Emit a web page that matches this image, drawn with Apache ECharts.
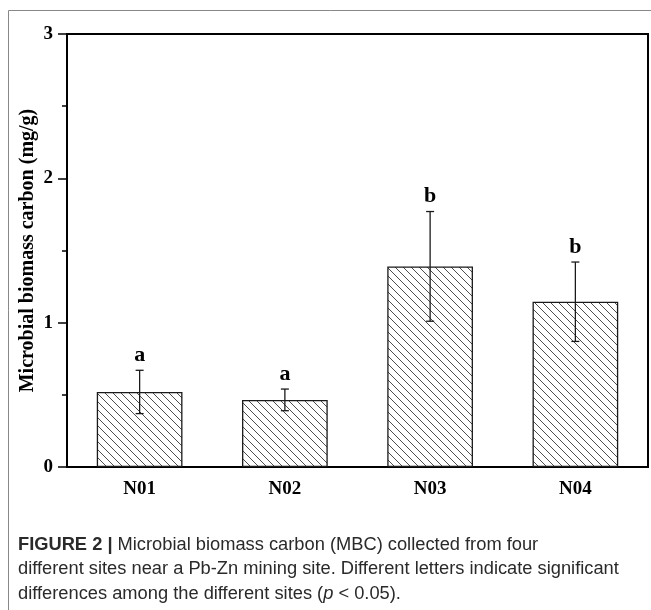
<!DOCTYPE html>
<html>
<head>
<meta charset="utf-8">
<script src="https://cdn.jsdelivr.net/npm/echarts@6/dist/echarts.min.js"></script>
<style>
html,body{margin:0;padding:0;background:#fff;}
#chart{width:651px;height:610px;}
</style>
</head>
<body>
<div id="chart"></div>
<script>
var categories = ['N01', 'N02', 'N03', 'N04'];
var means = [0.52, 0.465, 1.39, 1.145];
var errors = [0.15, 0.075, 0.38, 0.275];
var sigLetters = ['a', 'a', 'b', 'b'];
var yTicks = [0, 1, 2, 3];
var yAxisName = 'Microbial biomass carbon (mg/g)';
var captionBold = 'FIGURE 2 |';
var captionLines = [
  ' Microbial biomass carbon (MBC) collected from four',
  'different sites near a Pb-Zn mining site. Different letters indicate significant',
  'differences among the different sites ({i|p} < 0.05).'
];

var serif = '"Liberation Serif", "Times New Roman", serif';
var sans = '"Liberation Sans", Arial, sans-serif';

// hatch pattern
var tile = document.createElement('canvas');
tile.width = 8; tile.height = 8;
var ctx = tile.getContext('2d');
ctx.fillStyle = '#fff';
ctx.fillRect(0, 0, 8, 8);
ctx.strokeStyle = '#3a3a3a';
ctx.lineWidth = 0.9;
ctx.beginPath();
ctx.moveTo(-1, -1); ctx.lineTo(9, 9);
ctx.moveTo(-1, 7); ctx.lineTo(1, 9);
ctx.moveTo(7, -1); ctx.lineTo(9, 1);
ctx.stroke();

var errData = categories.map(function (c, i) {
  return [i, means[i] - errors[i], means[i] + errors[i], sigLetters[i]];
});

var chart = echarts.init(document.getElementById('chart'));
chart.setOption({
  animation: false,
  backgroundColor: '#fff',
  grid: {
    left: 67, right: 3, top: 34, bottom: 143,
    show: true, borderColor: '#000', borderWidth: 2, backgroundColor: 'transparent'
  },
  xAxis: [{
    type: 'category',
    data: categories,
    axisLine: { lineStyle: { color: '#000', width: 2 } },
    axisTick: { alignWithLabel: true, length: 7, lineStyle: { color: '#000', width: 1.5 } },
    axisLabel: { color: '#000', fontFamily: serif, fontWeight: 'bold', fontSize: 19, margin: 13 },
    splitLine: { show: false }
  }, {
    type: 'category',
    data: categories,
    position: 'bottom',
    axisLine: { show: false },
    axisTick: { alignWithLabel: false, length: 5, lineStyle: { color: '#000', width: 1.5 } },
    axisLabel: { show: false },
    splitLine: { show: false }
  }],
  yAxis: {
    type: 'value',
    min: yTicks[0], max: yTicks[yTicks.length - 1], interval: 1,
    name: yAxisName,
    nameLocation: 'middle',
    nameGap: 29,
    nameMoveOverlap: false,
    nameTextStyle: { color: '#000', fontFamily: serif, fontWeight: 'bold', fontSize: 20 },
    axisLine: { show: true, lineStyle: { color: '#000', width: 2 } },
    axisTick: { show: true, length: 9, lineStyle: { color: '#000', width: 1.5 } },
    minorTick: { show: true, splitNumber: 2, length: 5, lineStyle: { color: '#000', width: 1.5 } },
    axisLabel: { color: '#000', fontFamily: serif, fontWeight: 'bold', fontSize: 19, margin: 14 },
    splitLine: { show: false },
    minorSplitLine: { show: false }
  },
  series: [{
    type: 'bar',
    xAxisIndex: 0,
    data: means,
    barWidth: '59%',
    itemStyle: {
      color: { image: tile, repeat: 'repeat' },
      borderColor: '#1a1a1a',
      borderWidth: 1.3
    },
    z: 2
  }, {
    type: 'custom',
    xAxisIndex: 0,
    data: errData,
    z: 3,
    renderItem: function (params, api) {
      var x = api.value(0);
      var lo = api.coord([x, api.value(1)]);
      var hi = api.coord([x, api.value(2)]);
      var hw = 4;
      var st = { stroke: '#1a1a1a', lineWidth: 1.3 };
      return {
        type: 'group',
        children: [
          { type: 'line', shape: { x1: lo[0], y1: lo[1], x2: hi[0], y2: hi[1] }, style: st },
          { type: 'line', shape: { x1: lo[0] - hw, y1: lo[1], x2: lo[0] + hw, y2: lo[1] }, style: st },
          { type: 'line', shape: { x1: hi[0] - hw, y1: hi[1], x2: hi[0] + hw, y2: hi[1] }, style: st },
          { type: 'text', x: hi[0], y: hi[1] - 15,
            style: { text: errData[params.dataIndex][3], fill: '#000', font: 'bold 22px ' + serif,
                     textAlign: 'center', textVerticalAlign: 'middle' } }
        ]
      };
    }
  }],
  graphic: [{
    type: 'rect',
    shape: { x: 8.5, y: 10.5, width: 700, height: 700 },
    style: { fill: 'none', stroke: '#888', lineWidth: 1 },
    silent: true, z: -10
  }, {
    type: 'text',
    left: 18,
    top: 533,
    style: {
      text: '{b|' + captionBold + '}' + captionLines.join('\n'),
      font: '18.3px ' + sans,
      fill: '#2a2a2a',
      lineHeight: 24.3,
      rich: {
        b: { font: 'bold 18.3px ' + sans, fill: '#2a2a2a', lineHeight: 24.3 },
        i: { font: 'italic 18.3px ' + sans, fill: '#2a2a2a', lineHeight: 24.3 }
      }
    }
  }]
});
</script>
</body>
</html>
